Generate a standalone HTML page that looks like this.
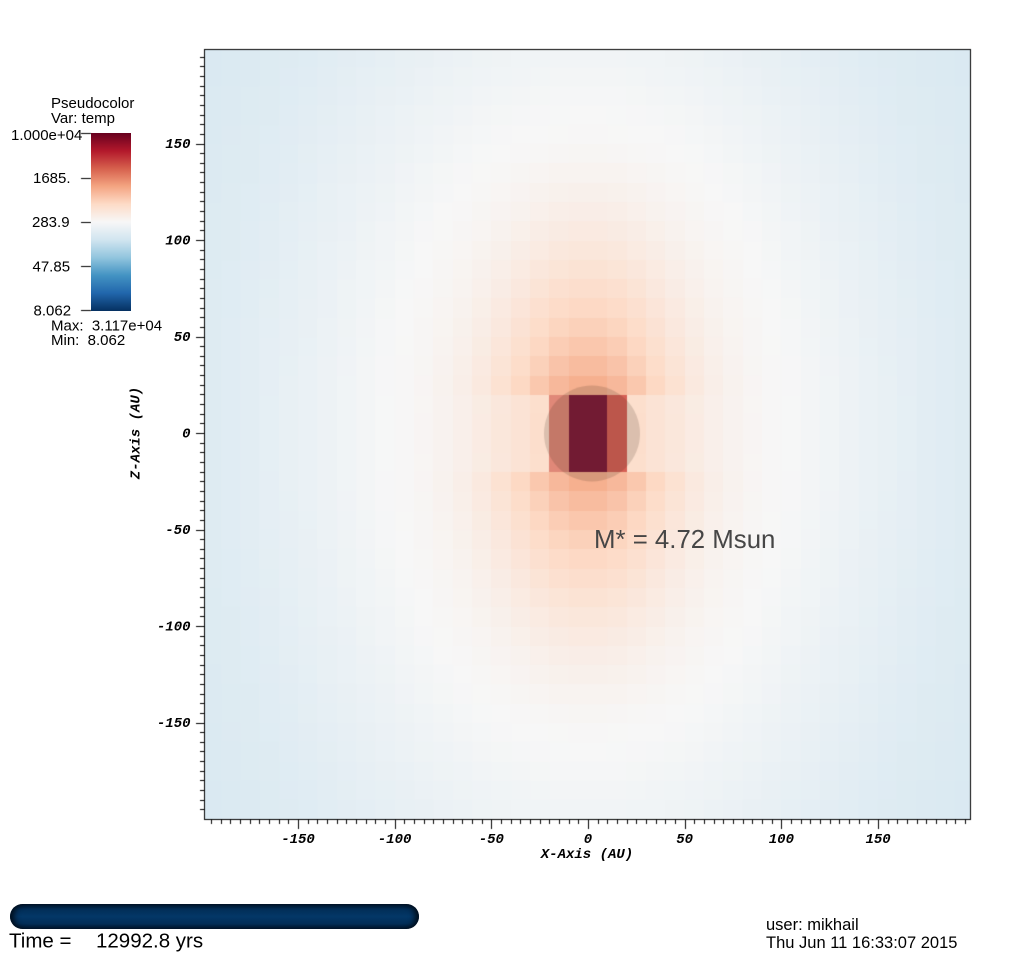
<!DOCTYPE html>
<html>
<head>
<meta charset="utf-8">
<style>
  html,body{margin:0;padding:0;background:#fff;}
  body{width:1024px;height:963px;position:relative;overflow:hidden;}
  canvas,svg{position:absolute;left:0;top:0;}
  #cb{position:absolute;left:91px;top:133px;width:40px;height:178px;
    background:linear-gradient(to bottom,#67001f 0%,#b2182b 10%,#d6604d 20%,#f4a582 30%,#fddbc7 40%,#f7f7f7 50%,#d1e5f0 60%,#92c5de 70%,#4393c3 80%,#2166ac 90%,#053061 100%);}
  #tb{position:absolute;left:10px;top:904px;width:409px;height:25px;border-radius:12.5px;
    background:linear-gradient(to bottom,#00162c 0%,#022e58 22%,#033767 50%,#022e58 78%,#00162c 100%);
    box-shadow:inset 7px 0 6px -3px #000e1c, inset -7px 0 6px -3px #000e1c;}
</style>
</head>
<body>
<canvas id="c" width="1024" height="963"></canvas>
<div id="cb"></div>
<div id="tb"></div>
<svg width="1024" height="963" xmlns="http://www.w3.org/2000/svg">
  <g font-family="Liberation Mono, monospace" font-weight="bold" font-style="italic" font-size="14" fill="#000">
    <text x="298" y="843" text-anchor="middle">-150</text>
    <text x="394.6" y="843" text-anchor="middle">-100</text>
    <text x="491.3" y="843" text-anchor="middle">-50</text>
    <text x="588" y="843" text-anchor="middle">0</text>
    <text x="684.7" y="843" text-anchor="middle">50</text>
    <text x="781.4" y="843" text-anchor="middle">100</text>
    <text x="878.1" y="843" text-anchor="middle">150</text>
    <text x="587" y="858" text-anchor="middle">X-Axis (AU)</text>

    <text x="190.5" y="148" text-anchor="end">150</text>
    <text x="190.5" y="244.5" text-anchor="end">100</text>
    <text x="190.5" y="341" text-anchor="end">50</text>
    <text x="190.5" y="437.5" text-anchor="end">0</text>
    <text x="190.5" y="534" text-anchor="end">-50</text>
    <text x="190.5" y="630.5" text-anchor="end">-100</text>
    <text x="190.5" y="727" text-anchor="end">-150</text>
    <text transform="translate(139.5,433) rotate(-90)" text-anchor="middle">Z-Axis (AU)</text>
  </g>
  <g font-family="Liberation Sans, Arial, sans-serif" font-size="15" fill="#000">
    <text x="51" y="108">Pseudocolor</text>
    <text x="51" y="123">Var: temp</text>
    <text x="11" y="140">1.000e+04</text>
    <text x="33" y="183">1685.</text>
    <text x="32" y="227">283.9</text>
    <text x="32.5" y="271.5">47.85</text>
    <text x="33.5" y="315.5">8.062</text>
    <text x="51" y="330.5" style="white-space:pre">Max:  3.117e+04</text>
    <text x="51" y="345" style="white-space:pre">Min:  8.062</text>
  </g>
  <text x="594" y="548" font-family="Liberation Sans, Arial, sans-serif" font-size="25.8" fill="#464646">M* = 4.72 Msun</text>
  <g font-family="Liberation Sans, Arial, sans-serif" fill="#000">
    <text x="9" y="947.5" font-size="20.5">Time =</text>
    <text x="96" y="947.5" font-size="20.5">12992.8 yrs</text>
    <text x="766" y="930" font-size="16.5">user: mikhail</text>
    <text x="766" y="948" font-size="16.5">Thu Jun 11 16:33:07 2015</text>
  </g>
</svg>
<script>
(function(){
  var c=document.getElementById('c');
  var ctx=c.getContext('2d');
  var C=[[5,48,97],[33,102,172],[67,147,195],[146,197,222],[209,229,240],[247,247,247],[253,219,199],[244,165,130],[214,96,77],[178,24,43],[103,0,31]];
  function cmap(t){
    t=Math.max(0,Math.min(1,t));
    var f=t*10, i=Math.min(9,Math.floor(f)), u=f-i;
    var r=[];
    for(var k=0;k<3;k++){r.push(Math.round(C[i][k]+(C[i+1][k]-C[i][k])*u));}
    return 'rgb('+r[0]+','+r[1]+','+r[2]+')';
  }
  function lin(tab,v){
    if(v<=tab[0][0]) return tab[0][1];
    for(var k=1;k<tab.length;k++){
      if(v<=tab[k][0]){var a=tab[k-1],b=tab[k];return a[1]+(b[1]-a[1])*(v-a[0])/(b[0]-a[0]);}
    }
    return tab[tab.length-1][1];
  }
  var base=[[0,0.62],[18,0.60],[25,0.59],[35,0.572],[45,0.558],[55,0.542],[65,0.528],[75,0.517],[85,0.509],[95,0.503],[105,0.498],[115,0.49],[125,0.482],[135,0.474],[145,0.466],[155,0.46],[165,0.453],[175,0.446],[185,0.44],[195,0.435],[240,0.42],[300,0.405]];
  var jz=[[0,0],[19.9,0],[20,0.08],[25,0.08],[35,0.065],[45,0.055],[65,0.04],[85,0.028],[105,0.018],[125,0.01],[150,0]];
  function val(x,z){
    var r=Math.sqrt(x*x+(z/1.6)*(z/1.6));
    var t=lin(base,r);
    t+=lin(jz,Math.abs(z))*Math.exp(-(x/40)*(x/40));
    return t;
  }
  ctx.save();
  ctx.beginPath();ctx.rect(204,49,767,771);ctx.clip();
  for(var i=-21;i<=20;i++){
    for(var j=-21;j<=20;j++){
      var xa=Math.round(588+i*19.34), xb=Math.round(588+(i+1)*19.34);
      var ya=Math.round(433.5-(j+1)*19.3), yb=Math.round(433.5-j*19.3);
      var xc=10*i+5, zc=10*j+5, col;
      if(Math.abs(zc)<20 && (i===-1||i===0)) col='#7d1938';
      else if(Math.abs(zc)<20 && i===-2) col='rgb(224,136,120)';
      else if(Math.abs(zc)<20 && i===1) col='rgb(214,96,85)';
      else col=cmap(val(xc,zc));
      ctx.fillStyle=col;
      ctx.fillRect(xa,ya,xb-xa,yb-ya);
    }
  }
  ctx.beginPath();
  ctx.arc(592,433.5,48,0,Math.PI*2);
  ctx.fillStyle='rgba(60,40,30,0.17)';
  ctx.fill();
  ctx.restore();

  ctx.strokeStyle='#000';ctx.lineWidth=1;
  ctx.strokeRect(204.5,49.5,766,770);
  ctx.beginPath();
  for(var v=-195;v<=195;v+=5){
    var px=Math.floor(588.5+v*1.934)+0.5;
    var len=(v%50===0)?9:4;
    ctx.moveTo(px,820);ctx.lineTo(px,820+len);
    var py=Math.floor(433.5-v*1.93)+0.5;
    var l2=(v%50===0)?8:4;
    ctx.moveTo(204,py);ctx.lineTo(204-l2,py);
  }
  var cbt=[133,178,222,266,310];
  for(var k=0;k<cbt.length;k++){ctx.moveTo(81,cbt[k]+0.5);ctx.lineTo(91,cbt[k]+0.5);}
  ctx.stroke();
})();
</script>
</body>
</html>
